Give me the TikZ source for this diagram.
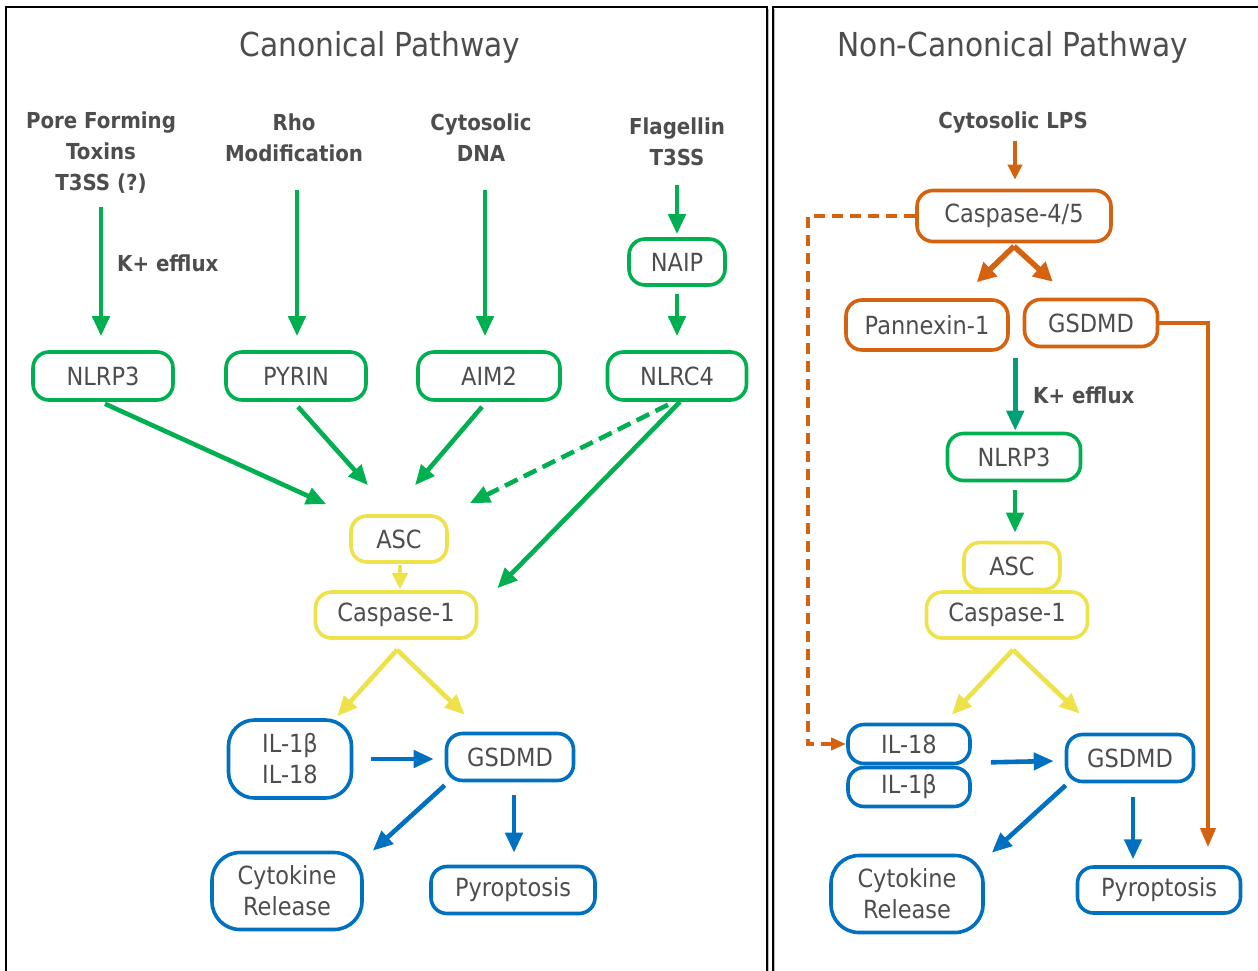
\documentclass[tikz,border=0pt]{standalone}
\usepackage{fontspec}
\setmainfont{DejaVu Sans}[FakeStretch=0.9]
\usetikzlibrary{arrows.meta,calc}
\definecolor{cgreen}{HTML}{00B050}
\definecolor{cyellow}{HTML}{EEE14A}
\definecolor{cblue}{HTML}{0070C0}
\definecolor{corange}{HTML}{D5620F}
\definecolor{cteal}{HTML}{00A075}
\definecolor{txt}{HTML}{4D4D4D}
\begin{document}
\begin{tikzpicture}[x=1pt,y=-1pt,
  box/.style={draw, line width=3.6pt, rounded corners=16pt, inner sep=0pt, text=txt,
    font=\fontsize{25}{31}\selectfont, align=center},
  cause/.style={inner sep=0pt, text=txt, font=\fontsize{22}{31}\selectfont\bfseries, align=center},
  ttl/.style={inner sep=0pt, text=txt, font=\fontsize{33}{40}\selectfont},
  arr/.style={line width=4.6pt, -{Triangle[length=20pt,width=17pt]}},
  smallarr/.style={line width=4.6pt, -{Triangle[length=16pt,width=15pt]}},
  garr/.style={arr, draw=cgreen, fill=cgreen},
  yarr/.style={arr, draw=cyellow, fill=cyellow},
  barr/.style={arr, draw=cblue, fill=cblue},
  oarr/.style={line width=5.5pt, draw=corange, -{Triangle[length=19pt,width=19pt]}},
]
\useasboundingbox (0,0) rectangle (1258,970);

% panel frames
\draw[line width=2pt] (6,980) -- (6,7) -- (767,7) -- (767,980);
\draw[line width=1.2pt, gray!55] (768.8,9) -- (768.8,980);
\draw[line width=2pt] (773,980) -- (773,7) -- (1268,7);
\draw[line width=1.2pt, gray!55] (774.8,9) -- (774.8,980);

% titles
\node[ttl] (t1) at (380,47) {Canonical Pathway};
\node[ttl] (t2) at (1013,47) {Non-Canonical Pathway};

% ---------- canonical pathway ----------
\node[cause] (pore) at (101,153) {Pore Forming\\Toxins\\T3SS (?)};
\node[cause] (rho)  at (294,138) {Rho\\Modification};
\node[cause] (dna)  at (481,138) {Cytosolic\\DNA};
\node[cause] (flag) at (677,142) {Flagellin\\T3SS};
\node[cause, anchor=west] (kl) at (117,263) {K+ efflux};

\node[box, draw=cgreen, minimum width=96pt, minimum height=46pt] (naip) at (677,262) {NAIP};
\node[box, draw=cgreen, minimum width=140pt, minimum height=48pt] (nlrp3) at (103,376) {NLRP3};
\node[box, draw=cgreen, minimum width=140pt, minimum height=48pt] (pyrin) at (296,376) {PYRIN};
\node[box, draw=cgreen, minimum width=142pt, minimum height=48pt] (aim2) at (489,376) {AIM2};
\node[box, draw=cgreen, minimum width=139pt, minimum height=48pt] (nlrc4) at (677,376) {NLRC4};

\node[box, draw=cyellow, minimum width=96pt, minimum height=46pt] (asc) at (399,539) {ASC};
\node[box, draw=cyellow, minimum width=161pt, minimum height=46pt] (casp1) at (396,615) {Caspase-1};

\node[box, draw=cblue, rounded corners=26pt, minimum width=123pt, minimum height=78pt] (il) at (290,759) {IL-1β\\IL-18};
\node[box, draw=cblue, minimum width=127pt, minimum height=47pt] (gsdmd) at (510,757) {GSDMD};
\node[box, draw=cblue, rounded corners=28pt, minimum width=150pt, minimum height=77pt] (cyto) at (287,891) {Cytokine\\Release};
\node[box, draw=cblue, minimum width=164pt, minimum height=47pt] (pyro) at (513,890) {Pyroptosis};

\draw[garr] ($(pore.south)+(0,13)$) -- ($(nlrp3.north)+(-2,-14)$);
\draw[garr] ($(rho.south)+(3,28)$) -- ($(pyrin.north)+(1,-14)$);
\draw[garr] ($(dna.south)+(4,28)$) -- ($(aim2.north)+(-4,-14)$);
\draw[garr] ($(flag.south)+(0,19)$) -- ($(naip.north)+(0,-3)$);
\draw[garr] ($(naip.south)+(0,7)$) -- ($(nlrc4.north)+(0,-14)$);

\draw[garr] ($(nlrp3.south)+(2,2)$) -- ($(asc.north west)+(-23,-10)$);
\draw[garr] ($(pyrin.south)+(2,5)$) -- ($(asc.north)+(-31,-29)$);
\draw[garr] ($(aim2.south)+(-7,5)$) -- ($(asc.north)+(16,-29)$);
\draw[garr, dash pattern=on 14pt off 7pt] ($(nlrc4.south)+(-9,3)$) -- ($(asc.north east)+(21,-11)$);
\draw[garr] ($(nlrc4.south)+(3,0)$) -- ($(casp1.north east)+(19,-2)$);

\draw[smallarr, draw=cyellow, fill=cyellow] ($(asc.south)+(1,1)$) -- ($(casp1.north)+(4,-1)$);
\draw[yarr] ($(casp1.south)+(1,10)$) -- ($(il.north east)+(-16,-2)$);
\draw[yarr] ($(casp1.south)+(1,10)$) -- ($(gsdmd.north west)+(20,-17)$);

\draw[barr] ($(il.east)+(18,0)$) -- ($(gsdmd.west)+(-11,2)$);
\draw[barr] ($(gsdmd.south west)+(0,3)$) -- ($(cyto.north east)+(9,0)$);
\draw[barr] ($(gsdmd.south)+(4,13)$) -- ($(pyro.north)+(1,-12)$);

% ---------- non-canonical pathway ----------
\node[cause] (lps) at (1013,123) {Cytosolic LPS};
\node[box, draw=corange, minimum width=194pt, minimum height=51pt] (casp45) at (1014,216) {Caspase-4/5};
\node[box, draw=corange, minimum width=162pt, minimum height=50pt] (panx) at (927,325) {Pannexin-1};
\node[box, draw=corange, minimum width=133pt, minimum height=47pt] (gsdmdo) at (1091,323) {GSDMD};
\node[cause, anchor=west] (kr) at (1033,395) {K+ efflux};
\node[box, draw=cgreen, minimum width=133pt, minimum height=47pt] (nlrp3r) at (1014,457) {NLRP3};
\node[box, draw=cyellow, minimum width=96pt, minimum height=47pt] (ascr) at (1012,566) {ASC};
\node[box, draw=cyellow, minimum width=161pt, minimum height=46pt] (casp1r) at (1007,615) {Caspase-1};
\node[box, draw=cblue, minimum width=122pt, minimum height=39pt] (il18) at (909,744) {IL-18};
\node[box, draw=cblue, minimum width=122pt, minimum height=39pt] (il1b) at (909,787) {IL-1β};
\node[box, draw=cblue, minimum width=127pt, minimum height=47pt] (gsdmdr) at (1130,758) {GSDMD};
\node[box, draw=cblue, rounded corners=28pt, minimum width=152pt, minimum height=77pt] (cytor) at (907,894) {Cytokine\\Release};
\node[box, draw=cblue, minimum width=163pt, minimum height=46pt] (pyror) at (1159,890) {Pyroptosis};

\draw[line width=3.6pt, draw=corange, -{Triangle[length=15pt,width=14pt]}] ($(lps.south)+(2,7)$) -- ($(casp45.north)+(1,-9)$);
\draw[oarr] ($(casp45.south)+(0,3)$) -- ($(panx.north east)+(-33,-16)$);
\draw[oarr] ($(casp45.south)+(0,3)$) -- ($(gsdmdo.north west)+(30,-16)$);
\draw[line width=3.6pt, draw=corange, -{Triangle[length=19pt,width=15pt]}] (gsdmdo.east) -| ($(pyror.north)+(49,-18)$);
\draw[line width=3.6pt, draw=corange, dash pattern=on 11pt off 7pt, -{Triangle[length=15pt,width=12pt]}]
  (casp45.west) -| ($(il18.west)+(-38,0)$) -- (il18.west);

\coordinate (kout) at ($(panx.south east)!0.5!(gsdmdo.south west)+(-1,8)$);
\draw[line width=4.6pt, draw=cteal, -{Triangle[length=20pt,width=17pt]}] (kout) -- ($(kout |- nlrp3r.north)+(0,-1)$);
\draw[garr] ($(nlrp3r.south)+(1,8)$) -- ($(ascr.north)+(3,-8)$);

\draw[yarr] ($(casp1r.south)+(6,10)$) -- ($(il18.north east)+(-20,-8)$);
\draw[yarr] ($(casp1r.south)+(6,10)$) -- ($(gsdmdr.north west)+(15,-19)$);

\draw[barr] ($(il18.south east)+(19,-3)$) -- ($(gsdmdr.west)+(-11,3)$);
\draw[barr] ($(gsdmdr.south west)+(1,2)$) -- ($(cytor.north east)+(7,-1)$);
\draw[barr] ($(gsdmdr.south)+(3,14)$) -- ($(gsdmdr.south)+(3,76)$);
\end{tikzpicture}
\end{document}
